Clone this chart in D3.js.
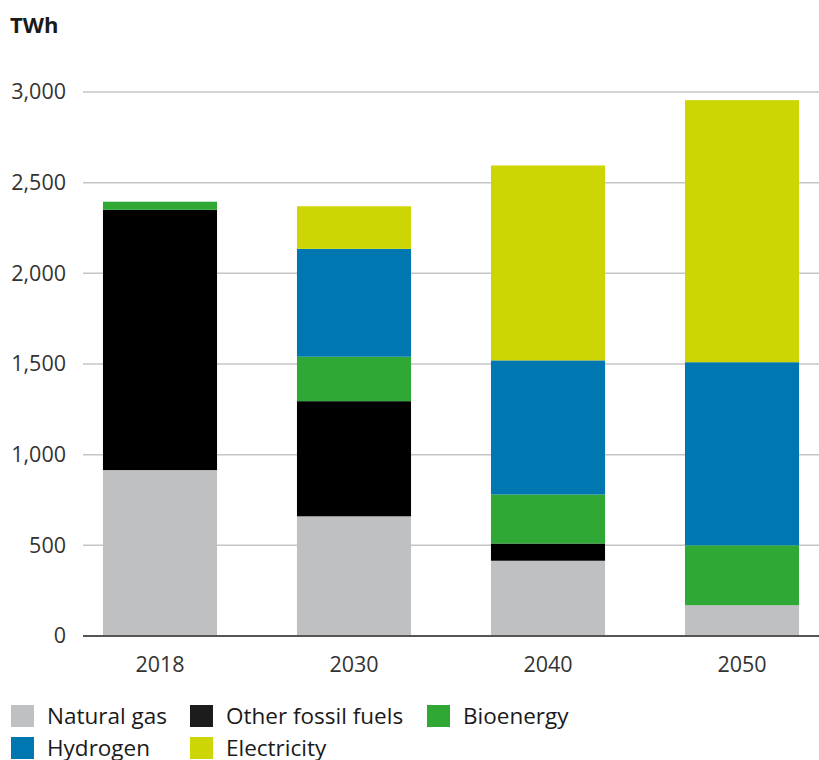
<!DOCTYPE html>
<html>
<head>
<meta charset="utf-8">
<script src="https://cdn.jsdelivr.net/npm/d3@7"></script>
<style>
  html, body { margin: 0; padding: 0; background: #fff; }
  svg { display: block; font-family: "Open Sans", "Noto Sans", sans-serif; }
</style>
</head>
<body>
<svg id="chart" width="819" height="760"></svg>
<script>
// Final energy demand by carrier, TWh
const years = ["2018", "2030", "2040", "2050"];
const carriers = ["Natural gas", "Other fossil fuels", "Bioenergy", "Hydrogen", "Electricity"];
const naturalGas = [915, 660, 415, 170];
const otherFossil = [1435, 635, 95, 0];
const bioenergy = [45, 245, 270, 330];
const hydrogen = [0, 595, 740, 1010];
const electricity = [0, 235, 1075, 1445];
const yTicks = [0, 500, 1000, 1500, 2000, 2500, 3000];
const colors = ["#bfc0c2", "#000000", "#2fa836", "#0077b0", "#cdd604"];

const seriesValues = [naturalGas, otherFossil, bioenergy, hydrogen, electricity];
const rows = years.map((yr, i) => {
  const r = { year: yr };
  carriers.forEach((c, k) => { r[c] = seriesValues[k][i]; });
  return r;
});

const svg = d3.select("#chart");
const plotLeft = 83, plotRight = 819;

const x = d3.scaleBand()
  .domain(years)
  .range([63, 839])
  .paddingInner(0.412)
  .paddingOuter(0.206);

const y = d3.scaleLinear()
  .domain([0, 3000])
  .range([636, 92]);

const color = d3.scaleOrdinal().domain(carriers).range(colors);

// Horizontal gridlines
svg.append("g")
  .selectAll("line")
  .data(yTicks.filter(d => d > 0))
  .join("line")
  .attr("x1", plotLeft).attr("x2", plotRight)
  .attr("y1", d => y(d)).attr("y2", d => y(d))
  .attr("stroke", "#c6c6c6")
  .attr("stroke-width", 1.5);

// Stacked bars
const stack = d3.stack().keys(carriers)(rows);
svg.append("g")
  .selectAll("g")
  .data(stack)
  .join("g")
  .attr("fill", d => color(d.key))
  .selectAll("rect")
  .data(d => d)
  .join("rect")
  .attr("x", d => x(d.data.year))
  .attr("width", x.bandwidth())
  .attr("y", d => y(d[1]))
  .attr("height", d => y(d[0]) - y(d[1]));

// Baseline
svg.append("line")
  .attr("x1", plotLeft).attr("x2", plotRight)
  .attr("y1", y(0)).attr("y2", y(0))
  .attr("stroke", "#555")
  .attr("stroke-width", 2);

// Y axis labels
const yAxis = d3.axisLeft(y)
  .tickValues(yTicks)
  .tickFormat(d3.format(","))
  .tickSize(0)
  .tickPadding(0);
const gy = svg.append("g").attr("transform", "translate(66,0)").call(yAxis);
gy.select(".domain").remove();
gy.selectAll("text")
  .attr("font-family", "'Open Sans', sans-serif")
  .attr("font-size", 21.5)
  .attr("fill", "#333");

// X axis labels
const xAxis = d3.axisBottom(x).tickSize(0).tickPadding(0);
const gx = svg.append("g").attr("transform", "translate(0,657)").call(xAxis);
gx.select(".domain").remove();
gx.selectAll("text")
  .attr("font-family", "'Open Sans', sans-serif")
  .attr("font-size", 21.5)
  .attr("fill", "#333");

// Unit label
svg.append("text")
  .attr("x", 10).attr("y", 33)
  .attr("font-size", 22)
  .attr("font-weight", "bold")
  .attr("fill", "#1a1a1a")
  .text("TWh");

// Legend
const legendPos = [
  { x: 11, y: 705 }, { x: 190, y: 705 }, { x: 427, y: 705 },
  { x: 11, y: 737 }, { x: 190, y: 737 }
];
const legend = svg.append("g")
  .selectAll("g")
  .data(carriers)
  .join("g")
  .attr("transform", (d, i) => `translate(${legendPos[i].x},${legendPos[i].y})`);
legend.append("rect")
  .attr("width", 23).attr("height", 22)
  .attr("fill", (d, i) => i === 1 ? "#1c1c1c" : color(d));
legend.append("text")
  .attr("x", 36).attr("y", 19)
  .attr("font-size", 22.5)
  .attr("fill", "#1a1a1a")
  .text(d => d);
</script>
</body>
</html>
